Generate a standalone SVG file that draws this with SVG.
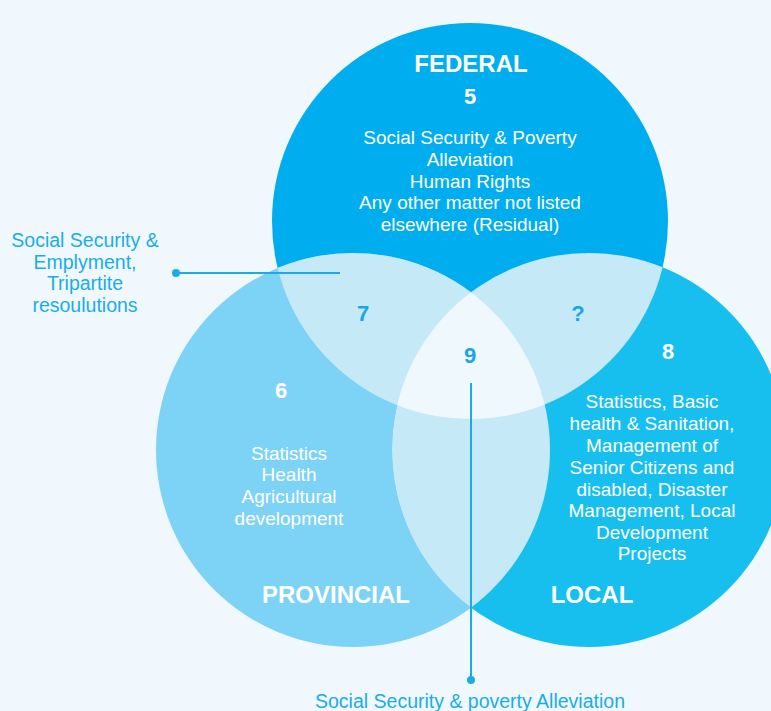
<svg xmlns="http://www.w3.org/2000/svg" width="771" height="711" viewBox="0 0 771 711">
<defs>
<style>
.t{font-family:"Liberation Sans",Arial,sans-serif;font-size:19px;fill:#ffffff;text-anchor:middle}
.h{font-family:"Liberation Sans",Arial,sans-serif;font-size:24px;font-weight:bold;fill:#ffffff;text-anchor:middle}
.n{font-family:"Liberation Sans",Arial,sans-serif;font-size:22px;font-weight:bold;text-anchor:middle}
.w{fill:#ffffff}
.b{fill:#1aa6e4}
.lab{font-family:"Liberation Sans",Arial,sans-serif;font-size:19.5px;fill:#19ade8;text-anchor:middle}
</style>
<clipPath id="cF"><circle cx="470" cy="221" r="198"/></clipPath>
<clipPath id="cP"><circle cx="353" cy="450" r="197"/></clipPath>
<clipPath id="cPF" clip-path="url(#cF)"><circle cx="353" cy="450" r="197"/></clipPath>
</defs>
<rect width="771" height="711" fill="#f0f8fe"/>
<g id="federal">
<circle cx="470" cy="221" r="198" fill="#00aeef"/>
</g>
<g id="provincial">
<circle cx="353" cy="450" r="197" fill="#7dd3f5"/>
</g>
<g id="local">
<circle cx="589" cy="450" r="197" fill="#17bfef"/>
</g>
<g id="overlaps">
<circle cx="353" cy="450" r="197" fill="#c6e9f8" clip-path="url(#cF)"/>
<circle cx="589" cy="450" r="197" fill="#c6e9f8" clip-path="url(#cF)"/>
<circle cx="589" cy="450" r="197" fill="#c6e9f8" clip-path="url(#cP)"/>
<circle cx="589" cy="450" r="197" fill="#eff8fd" clip-path="url(#cPF)"/>
</g>
<g id="federal-text">
<text class="h" x="471" y="72">FEDERAL</text>
<text class="n w" x="470" y="104">5</text>
<text class="t" x="470" y="144">Social Security &amp; Poverty</text>
<text class="t" x="470" y="166">Alleviation</text>
<text class="t" x="470" y="188">Human Rights</text>
<text class="t" x="470" y="209">Any other matter not listed</text>
<text class="t" x="470" y="231">elsewhere (Residual)</text>
</g>
<g id="provincial-text">
<text class="n w" x="281" y="398">6</text>
<text class="t" x="289" y="460">Statistics</text>
<text class="t" x="289" y="481">Health</text>
<text class="t" x="289" y="503">Agricultural</text>
<text class="t" x="289" y="525">development</text>
<text class="h" x="336" y="603">PROVINCIAL</text>
</g>
<g id="local-text">
<text class="n w" x="668" y="359">8</text>
<text class="t" x="652" y="408">Statistics, Basic</text>
<text class="t" x="652" y="430">health &amp; Sanitation,</text>
<text class="t" x="652" y="452">Management of</text>
<text class="t" x="652" y="474">Senior Citizens and</text>
<text class="t" x="652" y="496">disabled, Disaster</text>
<text class="t" x="652" y="517">Management, Local</text>
<text class="t" x="652" y="539">Development</text>
<text class="t" x="652" y="560">Projects</text>
<text class="h" x="592" y="603">LOCAL</text>
</g>
<g id="overlap-numbers">
<text class="n b" x="363" y="321">7</text>
<text class="n b" x="578" y="321">?</text>
<text class="n b" x="470" y="363">9</text>
</g>
<g id="connectors" stroke="#19ade8" stroke-width="2" fill="#19ade8">
<line x1="176" y1="273" x2="340" y2="273"/>
<circle cx="176" cy="273" r="4" stroke="none"/>
<line x1="471" y1="383" x2="471" y2="680"/>
<circle cx="471" cy="680" r="4" stroke="none"/>
</g>
<g id="labels">
<text class="lab" x="85" y="247">Social Security &amp;</text>
<text class="lab" x="85" y="269">Emplyment,</text>
<text class="lab" x="85" y="290">Tripartite</text>
<text class="lab" x="85" y="312">resoulutions</text>
<text class="lab" x="470" y="708">Social Security &amp; poverty Alleviation</text>
</g>
</svg>
